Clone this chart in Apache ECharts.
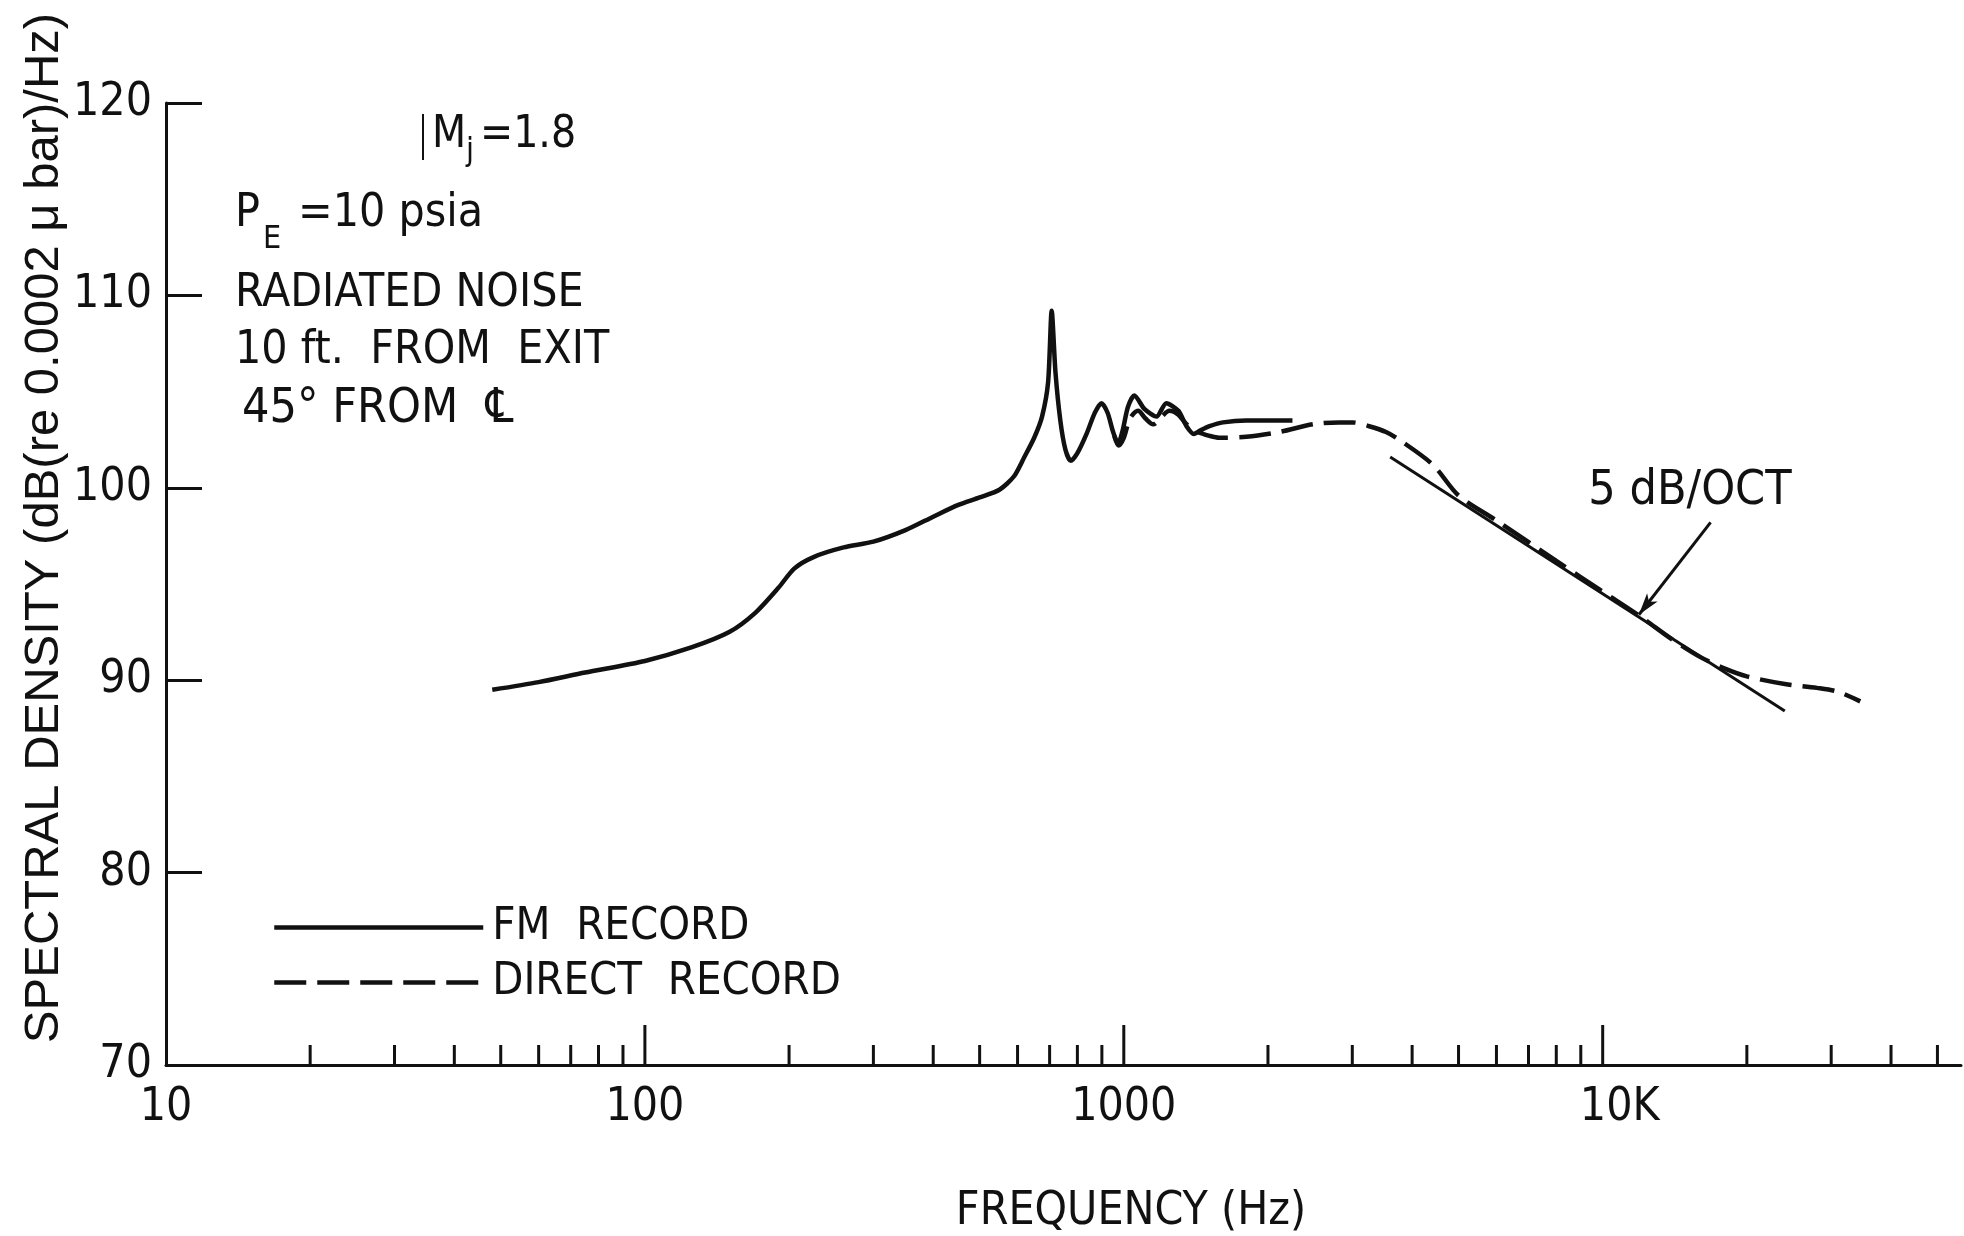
<!DOCTYPE html>
<html>
<head>
<meta charset="utf-8">
<script src="https://cdn.jsdelivr.net/npm/echarts@6/dist/echarts.min.js"></script>
<style>
  html, body { margin: 0; padding: 0; background: #fff; }
  #chart { width: 1964px; height: 1236px; }
</style>
</head>
<body>
<div id="chart"></div>
<script>
// Jet noise spectrum, Mj = 1.8, PE = 10 psia, 10 ft from exit, 45 deg from centerline.

// FM record (solid curve): frequency in Hz, level in dB
const fmFreq = [48, 60, 75, 100, 125, 150, 170, 190, 205, 225, 260, 300, 350, 400, 450, 500, 550,
  590, 620, 650, 675, 695, 707, 720, 737, 755, 775, 800, 836, 870, 898, 925, 950, 973, 995,
  1020, 1052, 1104, 1170, 1227, 1300, 1352, 1400, 1450, 1510, 1611, 1803, 2000, 2250];
const fmLevel = [89.5, 89.9, 90.4, 91.0, 91.7, 92.5, 93.5, 94.8, 95.8, 96.4, 96.9, 97.2, 97.8, 98.5, 99.1, 99.5, 99.9,
  100.6, 101.6, 102.6, 103.7, 105.5, 109.2, 106.0, 103.5, 102.0, 101.4, 101.8, 102.8, 103.9, 104.4, 103.9, 102.9, 102.3, 103.0,
  104.2, 104.8, 104.1, 103.7, 104.4, 104.0, 103.2, 102.8, 103.0, 103.2, 103.4, 103.5, 103.5, 103.5];

// Direct record (dashed curve)
const directFreq = [955, 975, 1000, 1030, 1071, 1110, 1152, 1200, 1245, 1300, 1352, 1430, 1510, 1582, 1803,
  2110, 2481, 2814, 3005, 3253, 3528, 3758, 4419, 5000, 6000, 8000, 10000, 12000, 14000, 16000, 18000,
  20000, 24000, 28000, 31000, 34500];
const directLevel = [102.7, 102.2, 102.6, 103.6, 104.0, 103.6, 103.3, 103.7, 104.0, 103.8, 103.3, 102.9, 102.7, 102.6, 102.65,
  102.9, 103.3, 103.4, 103.4, 103.2, 102.9, 102.5, 101.2, 99.6, 98.3, 96.2, 94.6, 93.3, 92.1, 91.2, 90.6,
  90.2, 89.8, 89.6, 89.4, 88.9];

// 5 dB/octave reference line
const slopeFreq = [3600, 24000];
const slopeLevel = [101.6, 88.4];

// Pointer from the "5 dB/OCT" note to the reference line
const pointerFrom = [16800, 98.2];
const pointerTo = [11900, 93.4];

// Axis ticks and labels
const xTickValues = [10, 100, 1000, 10000];
const xTickLabels = ['10', '100', '1000', '10K'];
const xMajorTicks = [100, 1000, 10000];
const xMinorTicks = [20, 30, 40, 50, 60, 70, 80, 90,
  200, 300, 400, 500, 600, 700, 800, 900,
  2000, 3000, 4000, 5000, 6000, 7000, 8000, 9000,
  20000, 30000, 40000, 50000];
const yMin = 70, yMax = 120, yStep = 10;

const FONT = "'Liberation Sans Narrow', 'DejaVu Sans Condensed', 'Liberation Sans', sans-serif";
const INK = '#111';

const pair = (xs, ys) => xs.map((x, i) => [x, ys[i]]);

function tickSeries(values, len) {
  return {
    type: 'custom',
    silent: true,
    z: 4,
    clip: false,
    data: values.map(v => [v, yMin]),
    renderItem: (params, api) => {
      const p = api.coord([api.value(0), api.value(1)]);
      return {
        type: 'line',
        shape: { x1: p[0], y1: p[1], x2: p[0], y2: p[1] - len },
        style: { stroke: INK, lineWidth: 3 }
      };
    }
  };
}

const chart = echarts.init(document.getElementById('chart'), null, { renderer: 'canvas' });

chart.setOption({
  animation: false,
  backgroundColor: '#fff',
  grid: { left: 166, right: 0, top: 103, bottom: 171, containLabel: false },
  xAxis: {
    type: 'log',
    logBase: 10,
    min: 10,
    max: 56000,
    axisLine: { show: true, lineStyle: { color: INK, width: 3 } },
    axisTick: { show: false },
    splitLine: { show: false },
    axisLabel: {
      color: INK,
      fontFamily: FONT,
      fontSize: 46,
      margin: 20,
      formatter: v => {
        const i = xTickValues.indexOf(Math.round(v));
        if (i < 0) return '';
        return i === xTickValues.length - 1 ? '{k|' + xTickLabels[i] + '}' : xTickLabels[i];
      },
      rich: { k: { fontFamily: FONT, fontSize: 46, color: INK, padding: [0, 0, 0, 34] } }
    }
  },
  yAxis: {
    type: 'value',
    min: yMin,
    max: yMax,
    interval: yStep,
    axisLine: { show: true, lineStyle: { color: INK, width: 3 } },
    axisTick: { show: true, inside: true, length: 36, lineStyle: { color: INK, width: 3 } },
    splitLine: { show: false },
    axisLabel: { color: INK, fontFamily: FONT, fontSize: 46, margin: 14 }
  },
  legend: {
    left: 267,
    top: 900,
    orient: 'vertical',
    itemWidth: 209,
    itemHeight: 14,
    itemGap: 10,
    selectedMode: false,
    data: ['FM  RECORD', 'DIRECT  RECORD'],
    itemStyle: { opacity: 0 },
    lineStyle: { width: 4.5 },
    textStyle: { color: INK, fontFamily: FONT, fontSize: 45, padding: [0, 0, 0, 4] }
  },
  series: [
    {
      name: 'FM  RECORD',
      type: 'line',
      data: pair(fmFreq, fmLevel),
      showSymbol: false,
      symbol: 'none',
      smooth: 0.25,
      lineStyle: { color: INK, width: 4.5 },
      itemStyle: { color: INK },
      z: 3
    },
    {
      name: 'DIRECT  RECORD',
      type: 'line',
      data: pair(directFreq, directLevel),
      showSymbol: false,
      symbol: 'none',
      smooth: 0.3,
      lineStyle: { color: INK, width: 4.5, type: [32, 11] },
      itemStyle: { color: INK },
      z: 3
    },
    {
      name: '5 dB/OCT',
      type: 'line',
      data: pair(slopeFreq, slopeLevel),
      showSymbol: false,
      symbol: 'none',
      lineStyle: { color: INK, width: 3 },
      z: 2,
      markLine: {
        silent: true,
        symbol: ['none', 'arrow'],
        symbolSize: [10, 22],
        label: { show: false },
        lineStyle: { color: INK, width: 3, type: 'solid' },
        data: [[{ coord: pointerFrom }, { coord: pointerTo }]]
      }
    },
    tickSeries(xMinorTicks, 20),
    tickSeries(xMajorTicks, 40)
  ],
  graphic: [
    {
      type: 'text', x: 44, y: 528, rotation: Math.PI / 2,
      style: {
        text: 'SPECTRAL DENSITY (dB(re 0.0002 \u03bc bar)/Hz)',
        fill: INK, font: "49px 'Liberation Sans', sans-serif",
        align: 'center', verticalAlign: 'middle'
      }
    },
    {
      type: 'text', x: 1131, y: 1212,
      style: { text: 'FREQUENCY (Hz)', fill: INK, font: '46px ' + FONT, align: 'center', verticalAlign: 'middle' }
    },
    { type: 'line', shape: { x1: 423, y1: 114, x2: 423, y2: 160 }, style: { stroke: INK, lineWidth: 2 } },
    { type: 'text', x: 432, y: 136, style: { text: 'M', fill: INK, font: '44px ' + FONT, align: 'left', verticalAlign: 'middle' } },
    { type: 'text', x: 466, y: 152, style: { text: 'j', fill: INK, font: '32px ' + FONT, align: 'left', verticalAlign: 'middle' } },
    { type: 'text', x: 480, y: 136, style: { text: '=1.8', fill: INK, font: '44px ' + FONT, align: 'left', verticalAlign: 'middle' } },
    { type: 'text', x: 235, y: 214, style: { text: 'P', fill: INK, font: '46px ' + FONT, align: 'left', verticalAlign: 'middle' } },
    { type: 'text', x: 263, y: 240, style: { text: 'E', fill: INK, font: '32px ' + FONT, align: 'left', verticalAlign: 'middle' } },
    { type: 'text', x: 298, y: 214, style: { text: '=10 psia', fill: INK, font: '46px ' + FONT, align: 'left', verticalAlign: 'middle' } },
    { type: 'text', x: 235, y: 294, style: { text: 'RADIATED NOISE', fill: INK, font: '46px ' + FONT, align: 'left', verticalAlign: 'middle' } },
    { type: 'text', x: 235, y: 351, style: { text: '10 ft.  FROM  EXIT', fill: INK, font: '46px ' + FONT, align: 'left', verticalAlign: 'middle' } },
    { type: 'text', x: 242, y: 410, style: { text: '45\u00b0 FROM  \u2104', fill: INK, font: '48px ' + FONT, align: 'left', verticalAlign: 'middle' } },
    { type: 'text', x: 1690, y: 492, style: { text: '5 dB/OCT', fill: INK, font: '48px ' + FONT, align: 'center', verticalAlign: 'middle' } }
  ]
});
</script>
</body>
</html>
